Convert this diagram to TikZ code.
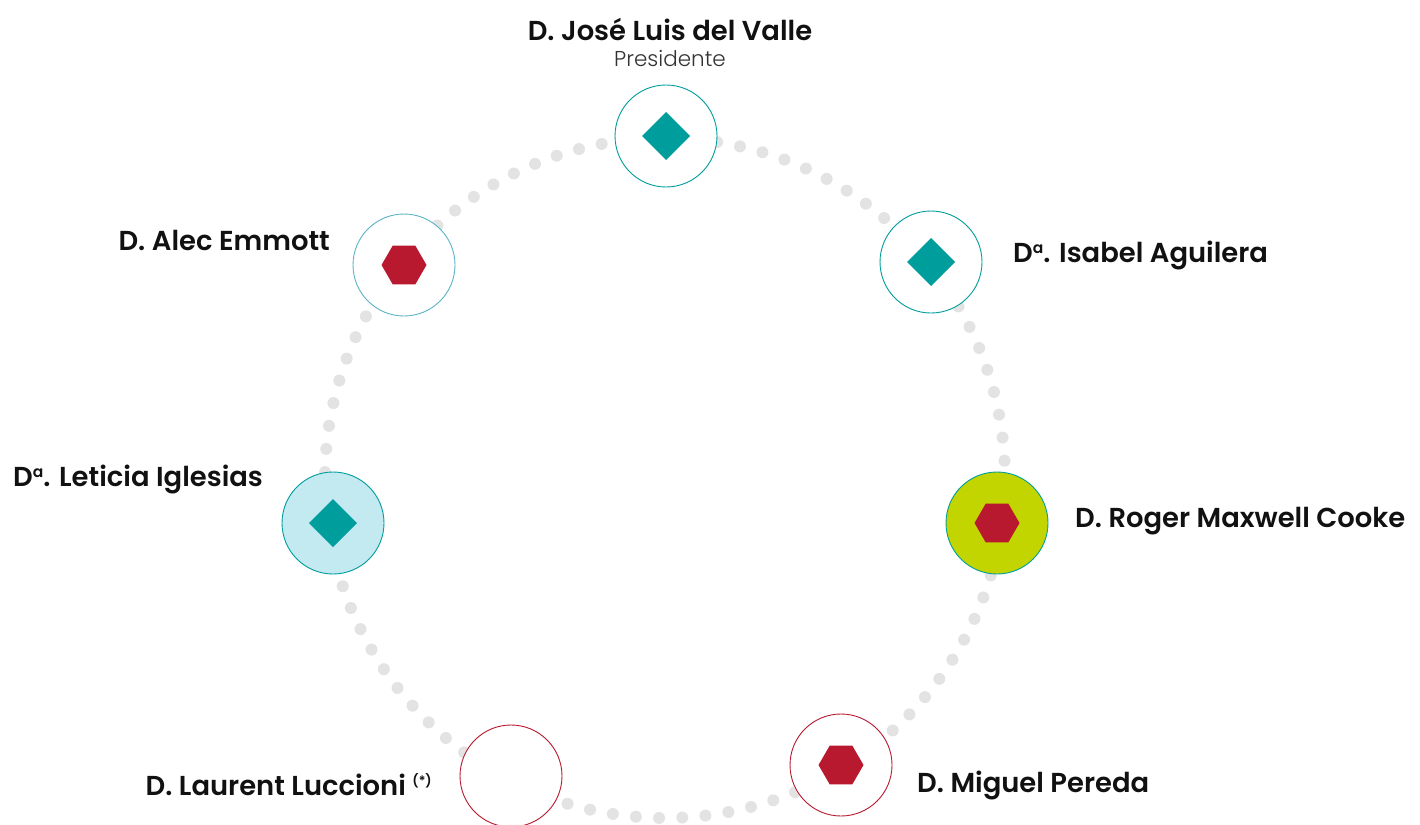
\documentclass[tikz,border=0pt]{standalone}
\usepackage{fontspec}
\setmainfont{Poppins}[BoldFont={Poppins SemiBold}]
\newfontfamily\lightfont{Poppins Light}
\usetikzlibrary{calc}
\definecolor{teal1}{HTML}{009D9D}
\definecolor{red1}{HTML}{B8192E}
\definecolor{lime1}{HTML}{C2D500}
\definecolor{cyan1}{HTML}{C3E9F1}
\definecolor{dotgray}{HTML}{E3E3E3}
\definecolor{blue1}{HTML}{5AB4C5}
\definecolor{txt}{HTML}{111111}
\tikzset{
  member/.style={circle, draw=teal1, line width=0.9pt, fill=white, minimum size=102pt, inner sep=0pt},
  personname/.style={font=\fontsize{27.4}{31}\selectfont\bfseries, text=txt, inner sep=0pt},
  rolelabel/.style={font=\fontsize{21.5}{24}\selectfont\lightfont, text=black!80, inner sep=0pt},
}
\newcommand{\Da}{D{\fontsize{15.5}{15.5}\selectfont\raisebox{8.5pt}{a}}}
\newcommand{\diam}[1]{\fill[teal1] ($(#1)+(24,0)$) -- ($(#1)+(0,24)$) -- ($(#1)+(-24,0)$) -- ($(#1)+(0,-24)$) -- cycle;}
\newcommand{\hexa}[1]{\fill[red1] ($(#1)+(0:22.5)$) -- ($(#1)+(60:22.5)$) -- ($(#1)+(120:22.5)$) -- ($(#1)+(180:22.5)$) -- ($(#1)+(240:22.5)$) -- ($(#1)+(300:22.5)$) -- cycle;}
\begin{document}
\begin{tikzpicture}[x=1pt,y=-1pt]
\useasboundingbox (0,0) rectangle (1420,824);
\coordinate (C) at (665,478);
\foreach \i in {0,...,91}{
  \pgfmathsetmacro\ang{3.913043*\i+1}
  \fill[dotgray] ($(C)+(\ang:340)$) circle (6);
}
\node[member] (pres) at (666,136) {};
\node[member] (isa) at (931,262) {};
\node[member, fill=lime1] (rog) at (997,523) {};
\node[member, draw=red1] (mig) at (841,765) {};
\node[member, draw=red1] (lau) at (511,776) {};
\node[member, fill=cyan1] (let) at (333,523) {};
\node[member, draw=blue1] (alec) at (404,265) {};
\diam{pres}
\diam{isa}
\hexa{rog}
\hexa{mig}
\diam{let}
\hexa{alec}
\node[personname] (tpres) at (670,29) {D. José Luis del Valle};
\node[rolelabel] (rpres) at (670,59) {Presidente};
\node[personname, anchor=west] (tisa) at (1013,255) {\Da. Isabel Aguilera};
\node[personname, anchor=west] (trog) at (1075,521) {D. Roger Maxwell Cooke};
\node[personname, anchor=west] (tmig) at (917,785) {D. Miguel Pereda};
\node[personname, anchor=east] (tlau) at (432,785) {D. Laurent Luccioni {\fontsize{13}{13}\selectfont\raisebox{10pt}{(*)}}};
\node[personname, anchor=west] (tlet) at (13,479) {\Da. Leticia Iglesias};
\node[personname, anchor=east] (talec) at (330,240) {D. Alec Emmott};
\end{tikzpicture}
\end{document}
